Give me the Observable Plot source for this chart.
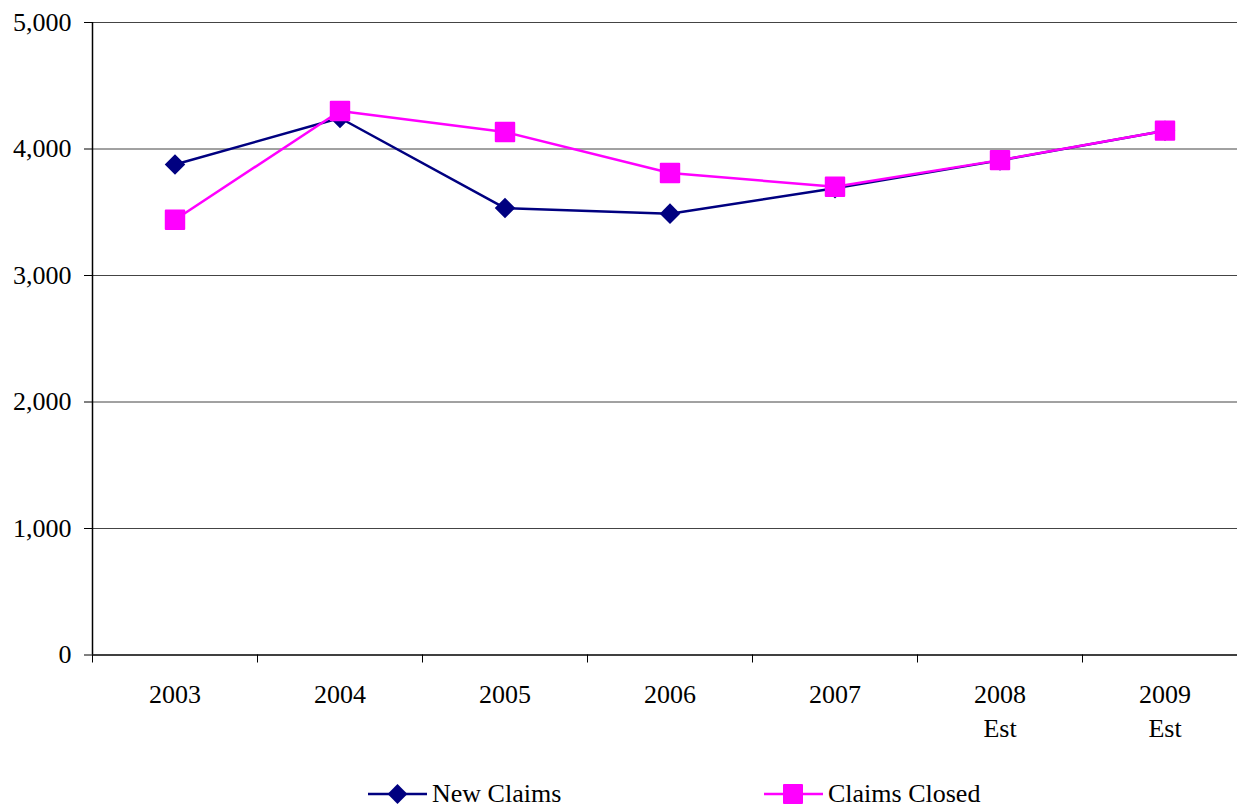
<!DOCTYPE html>
<html><head><meta charset="utf-8">
<script src="https://cdn.jsdelivr.net/npm/d3@7"></script>
<script src="https://cdn.jsdelivr.net/npm/@observablehq/plot@0.6"></script>
<style>
html,body{margin:0;padding:0;overflow:hidden;background:#fff;}
#wrap{position:relative;width:1237px;height:809px;overflow:hidden;font-family:"Liberation Serif","Times New Roman",serif;}
#chart{position:absolute;left:0;top:0;}
#chart svg{max-width:none !important;}
.leg{position:absolute;top:783px;display:flex;align-items:center;font-size:26px;line-height:22px;height:22px;color:#000;white-space:nowrap;}
.leg span{margin-left:5px;}
</style></head><body>
<div id="wrap"><div id="chart"></div><div id="legend"></div></div>
<script>
// ---- data ----
const years = ["2003", "2004", "2005", "2006", "2007", "2008", "2009"];
const yearLabels = ["2003", "2004", "2005", "2006", "2007", "2008\nEst", "2009\nEst"];
const newClaims = [3877, 4245, 3533, 3489, 3690, 3910, 4145];
const claimsClosed = [3441, 4300, 4135, 3810, 3702, 3912, 4145];
const yTicks = [0, 1000, 2000, 3000, 4000, 5000];
const seriesNames = ["New Claims", "Claims Closed"];
const seriesColors = ["#000080", "#FF00FF"];

// ---- build ----
const rows = s => years.map((y, i) => ({year: y, x: i + 0.5, value: s[i]}));
const nc = rows(newClaims), cc = rows(claimsClosed);
const bounds = d3.range(years.length + 1);

const plot = Plot.plot({
  width: 1247, height: 775,
  marginLeft: 92, marginRight: 0, marginTop: 22, marginBottom: 120.5,
  style: {fontFamily: "'Liberation Serif', 'Times New Roman', serif", fontSize: "26px", background: "white", color: "#000", overflow: "visible", maxWidth: "none"},
  x: {domain: [0, years.length], ticks: bounds, tickSize: 8, tickFormat: () => "", label: null},
  y: {domain: [0, 5000], ticks: yTicks, tickFormat: d3.format(","), tickSize: 8, tickPadding: 13, label: null},
  marks: [
    Plot.ruleY(yTicks.filter(d => d > 0), {stroke: "#444", strokeWidth: 1}),
    Plot.ruleX([0], {stroke: "#000", strokeWidth: 1.5}),
    Plot.ruleY([0], {stroke: "#000", strokeWidth: 1.5}),
    Plot.line(nc, {x: "x", y: "value", stroke: seriesColors[0], strokeWidth: 2.5}),
    Plot.dot(nc, {x: "x", y: "value", symbol: "square", rotate: 45, r: 8.2, fill: seriesColors[0], stroke: "none"}),
    Plot.line(cc, {x: "x", y: "value", stroke: seriesColors[1], strokeWidth: 2.5}),
    Plot.dot(cc, {x: "x", y: "value", symbol: "square", r: 10.4, fill: seriesColors[1], stroke: seriesColors[1], strokeWidth: 2, strokeLinejoin: "round"}),
    Plot.text(yearLabels, {x: (d, i) => i + 0.5, y: () => 0, text: d => d, lineAnchor: "top", dy: 24, lineHeight: 1.31, fill: "#000"})
  ]
});
plot.style.maxWidth = "none";
document.getElementById("chart").appendChild(plot);

// ---- legend ----
const legend = document.getElementById("legend");
const legLeft = [368, 764];
seriesNames.forEach((name, k) => {
  const item = document.createElement("div");
  item.className = "leg";
  item.style.left = legLeft[k] + "px";
  const c = seriesColors[k];
  const sym = k === 0
    ? `<rect x="22.5" y="4" width="14" height="14" fill="${c}" transform="rotate(45 29.5 11)"/>`
    : `<rect x="20" y="2" width="18" height="18" fill="${c}" stroke="${c}" stroke-width="2" stroke-linejoin="round"/>`;
  item.innerHTML = `<svg width="59" height="22"><line x1="0" x2="59" y1="11" y2="11" stroke="${c}" stroke-width="2.5"/>${sym}</svg><span>${name}</span>`;
  legend.appendChild(item);
});
</script>
</body></html>
